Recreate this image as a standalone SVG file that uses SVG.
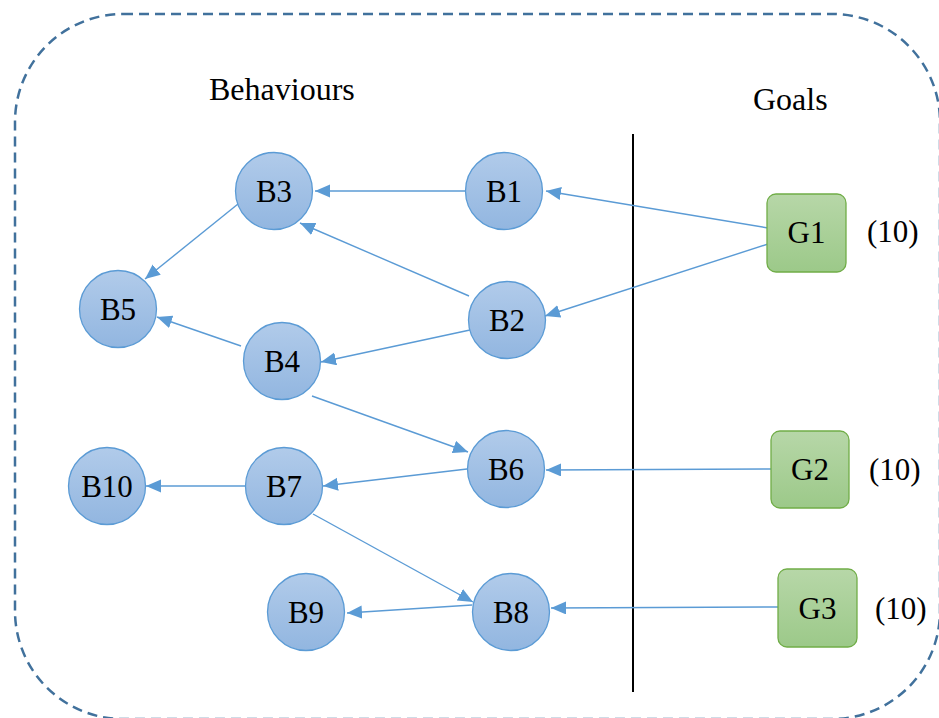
<svg xmlns="http://www.w3.org/2000/svg" width="939" height="718" viewBox="0 0 939 718" font-family="'Liberation Serif', 'DejaVu Serif', serif">
  <style>
    .frame { fill: none; stroke: #41719c; stroke-width: 2.5; stroke-dasharray: 10 6; }
    .divider { stroke: #000; stroke-width: 2; }
    .beh circle { fill: url(#blueFill); stroke: #5b9bd5; stroke-width: 1.3; }
    .goal rect { fill: url(#greenFill); stroke: #70ad47; stroke-width: 1.3; }
    text { font-family: 'Liberation Serif', 'DejaVu Serif', serif; fill: #000; }
    .lbl { font-size: 31px; text-anchor: middle; }
    .head { font-size: 32px; }
    .wt { font-size: 31px; }
    #edges line { stroke: #5b9bd5; stroke-width: 1.4; marker-end: url(#arrow); }
  </style>
  <defs>
    <linearGradient id="blueFill" x1="0" y1="0" x2="0" y2="1">
      <stop offset="0" stop-color="#b1cbea"/>
      <stop offset="1" stop-color="#92b6e0"/>
    </linearGradient>
    <linearGradient id="greenFill" x1="0" y1="0" x2="0" y2="1">
      <stop offset="0" stop-color="#b7d7a8"/>
      <stop offset="1" stop-color="#9cc989"/>
    </linearGradient>
    <marker id="arrow" markerUnits="userSpaceOnUse" markerWidth="16" markerHeight="14" refX="15" refY="6.5" orient="auto">
      <path d="M0,0 L15,6.5 L0,13 z" fill="#5b9bd5"/>
    </marker>
  </defs>

  <!-- outer dashed boundary -->
  <rect class="frame" x="15" y="14" width="925" height="705" rx="108" ry="108"/>
  <!-- divider between behaviours and goals -->
  <line class="divider" x1="633" y1="134" x2="633" y2="692"/>

  <text class="head" x="209" y="100">Behaviours</text>
  <text class="head" x="753" y="110">Goals</text>

  <g id="edges">
    <line x1="768" y1="228" x2="546" y2="191"/>
    <line x1="768" y1="244" x2="545" y2="316"/>
    <line x1="466" y1="191" x2="315" y2="191"/>
    <line x1="469" y1="296" x2="300" y2="223"/>
    <line x1="238" y1="204" x2="145" y2="279"/>
    <line x1="241" y1="346" x2="157" y2="317"/>
    <line x1="470" y1="330" x2="321" y2="362"/>
    <line x1="312" y1="396" x2="468" y2="452"/>
    <line x1="467" y1="469" x2="323" y2="486"/>
    <line x1="245" y1="486" x2="146" y2="486"/>
    <line x1="771" y1="469" x2="546" y2="470"/>
    <line x1="313" y1="514" x2="473" y2="602"/>
    <line x1="472" y1="605" x2="347" y2="613"/>
    <line x1="778" y1="607" x2="551" y2="608"/>
  </g>

  <g id="B1" class="beh"><circle cx="504" cy="191" r="38.5"/><text class="lbl" x="504" y="202">B1</text></g>
  <g id="B2" class="beh"><circle cx="507" cy="320" r="38.5"/><text class="lbl" x="507" y="331">B2</text></g>
  <g id="B3" class="beh"><circle cx="274" cy="191" r="38.5"/><text class="lbl" x="274" y="202">B3</text></g>
  <g id="B4" class="beh"><circle cx="282" cy="361" r="38.5"/><text class="lbl" x="282" y="372">B4</text></g>
  <g id="B5" class="beh"><circle cx="118" cy="309" r="38.5"/><text class="lbl" x="118" y="320">B5</text></g>
  <g id="B6" class="beh"><circle cx="506" cy="469" r="38.5"/><text class="lbl" x="506" y="480">B6</text></g>
  <g id="B7" class="beh"><circle cx="284" cy="486" r="38.5"/><text class="lbl" x="284" y="497">B7</text></g>
  <g id="B8" class="beh"><circle cx="511" cy="612" r="38.5"/><text class="lbl" x="511" y="623">B8</text></g>
  <g id="B9" class="beh"><circle cx="306" cy="612" r="38.5"/><text class="lbl" x="306" y="623">B9</text></g>
  <g id="B10" class="beh"><circle cx="107" cy="486" r="38.5"/><text class="lbl" x="107" y="497">B10</text></g>

  <g id="G1" class="goal"><rect x="767" y="194" width="79" height="78" rx="9"/><text class="lbl" x="806.5" y="243">G1</text><text class="wt" x="867" y="242">(10)</text></g>
  <g id="G2" class="goal"><rect x="771" y="431" width="78" height="77" rx="9"/><text class="lbl" x="810" y="480">G2</text><text class="wt" x="869" y="480">(10)</text></g>
  <g id="G3" class="goal"><rect x="778" y="569" width="79" height="78" rx="9"/><text class="lbl" x="817.5" y="619">G3</text><text class="wt" x="875" y="619">(10)</text></g>
</svg>
